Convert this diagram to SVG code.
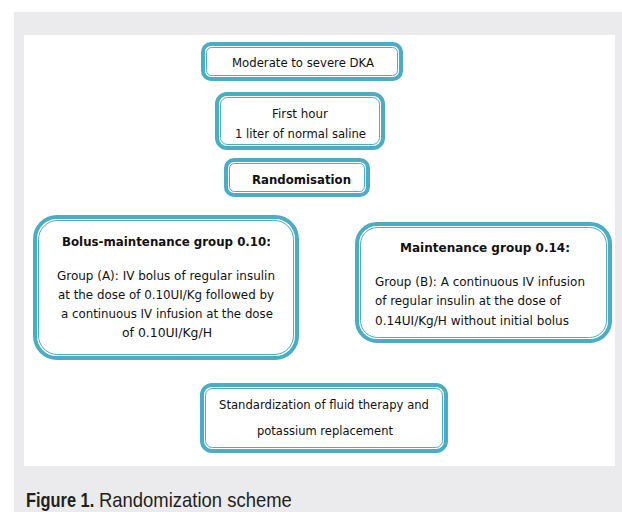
<svg xmlns="http://www.w3.org/2000/svg" width="622" height="512" viewBox="0 0 622 512">
<style>
.outer{fill:#ffffff;stroke:#4bacc6;stroke-width:4}
.inner{fill:none;stroke:#4bacc6;stroke-width:1}
.t{font-family:"DejaVu Sans",Verdana,sans-serif;font-size:12.5px;fill:#111111}
.c{text-anchor:middle}
.b{font-weight:bold}
.cap{font-family:"Liberation Sans",Arial,sans-serif;font-size:20.5px;fill:#231f20}
</style>
<rect x="14" y="12" width="608" height="500" fill="#ebebed"/>
<rect x="24" y="35" width="591" height="431" fill="#ffffff"/>
<g id="connectors"></g>
<g id="node-dka">
<rect class="outer" x="203" y="44" width="198" height="35" rx="8"/>
<rect class="inner" x="206.5" y="47.5" width="191" height="28" rx="5"/>
<text class="t c" x="303" y="67" textLength="142" lengthAdjust="spacingAndGlyphs">Moderate to severe DKA</text>
</g>
<g id="node-firsthour">
<rect class="outer" x="217" y="94" width="166" height="54" rx="10"/>
<rect class="inner" x="220.5" y="97.5" width="159" height="47" rx="7"/>
<text class="t c" x="300" y="118" textLength="56" lengthAdjust="spacingAndGlyphs">First hour</text>
<text class="t c" x="300.5" y="138" textLength="131" lengthAdjust="spacingAndGlyphs">1 liter of normal saline</text>
</g>
<g id="node-random">
<rect class="outer" x="226" y="160" width="142" height="35" rx="8"/>
<rect class="inner" x="229.5" y="163.5" width="135" height="28" rx="5"/>
<text class="t c b" x="301.5" y="184" textLength="99" lengthAdjust="spacingAndGlyphs">Randomisation</text>
</g>
<g id="node-bolus">
<rect class="outer" x="35" y="217" width="262" height="141" rx="22"/>
<rect class="inner" x="38.5" y="220.5" width="255" height="134" rx="19"/>
<text class="t c b" x="166.5" y="246" textLength="209" lengthAdjust="spacingAndGlyphs">Bolus-maintenance group 0.10:</text>
<text class="t c" x="166" y="280" textLength="218" lengthAdjust="spacingAndGlyphs">Group (A): IV bolus of regular insulin</text>
<text class="t c" x="166" y="299" textLength="216" lengthAdjust="spacingAndGlyphs">at the dose of 0.10UI/Kg followed by</text>
<text class="t c" x="167" y="318" textLength="212" lengthAdjust="spacingAndGlyphs">a continuous IV infusion at the dose</text>
<text class="t c" x="167" y="337" textLength="90" lengthAdjust="spacingAndGlyphs">of 0.10UI/Kg/H</text>
</g>
<g id="node-maint">
<rect class="outer" x="357" y="224" width="253" height="117" rx="20"/>
<rect class="inner" x="360.5" y="227.5" width="246" height="110" rx="17"/>
<text class="t c b" x="485" y="252" textLength="170" lengthAdjust="spacingAndGlyphs">Maintenance group 0.14:</text>
<text class="t" x="375" y="286" textLength="210" lengthAdjust="spacingAndGlyphs">Group (B): A continuous IV infusion</text>
<text class="t" x="375" y="305" textLength="186" lengthAdjust="spacingAndGlyphs">of regular insulin at the dose of</text>
<text class="t" x="375" y="325" textLength="194" lengthAdjust="spacingAndGlyphs">0.14UI/Kg/H without initial bolus</text>
</g>
<g id="node-std">
<rect class="outer" x="202" y="385" width="244" height="66" rx="10"/>
<rect class="inner" x="205.5" y="388.5" width="237" height="59" rx="7"/>
<text class="t c" x="324" y="409" textLength="210" lengthAdjust="spacingAndGlyphs">Standardization of fluid therapy and</text>
<text class="t c" x="325" y="435" textLength="136" lengthAdjust="spacingAndGlyphs">potassium replacement</text>
</g>
<text class="cap" font-weight="bold" transform="translate(26,507) scale(0.8,1)">Figure 1.</text>
<text class="cap" transform="translate(99,507) scale(0.9,1)">Randomization scheme</text>
</svg>
